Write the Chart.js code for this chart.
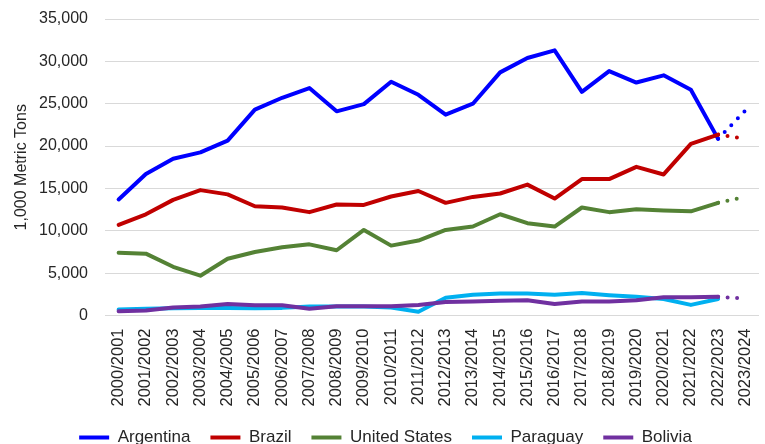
<!DOCTYPE html>
<html>
<head>
<meta charset="utf-8">
<script src="https://cdn.jsdelivr.net/npm/chart.js@4"></script>
<style>
  html, body { margin: 0; padding: 0; background: #fff; }
  #wrap { width: 765px; height: 444px; }
</style>
</head>
<body>
<div id="wrap"><canvas id="chart"></canvas></div>
<script>
// marketing years
const categories = [
  "2000/2001","2001/2002","2002/2003","2003/2004","2004/2005","2005/2006",
  "2006/2007","2007/2008","2008/2009","2009/2010","2010/2011","2011/2012",
  "2012/2013","2013/2014","2014/2015","2015/2016","2016/2017","2017/2018",
  "2018/2019","2019/2020","2020/2021","2021/2022","2022/2023","2023/2024"
];

// 1,000 metric tons (last year = projection, dotted)
const argentina    = [13700,16700,18500,19250,20650,24300,25700,26850,24100,24950,27600,26050,23700,25000,28700,30400,31300,26400,28850,27500,28350,26650,20850,24200];
const brazil       = [10700,11950,13650,14800,14300,12900,12750,12200,13100,13050,14050,14700,13300,14000,14400,15450,13800,16100,16100,17550,16650,20250,21350,20850];
const unitedStates = [7400,7300,5750,4700,6700,7500,8050,8400,7700,10100,8250,8850,10100,10500,11950,10900,10500,12750,12200,12550,12400,12300,13300,14000];
const paraguay     = [700,800,850,900,900,850,900,1050,1050,1050,950,450,2100,2450,2600,2600,2450,2650,2400,2200,1950,1250,1950,null];
const bolivia      = [500,600,950,1050,1350,1200,1200,800,1100,1100,1100,1250,1600,1650,1750,1800,1350,1650,1650,1800,2150,2150,2200,2000];

const yTicks = [0,5000,10000,15000,20000,25000,30000,35000];

const lastIdx = categories.length - 1;
const FONT = "'Liberation Sans', Arial, sans-serif";

function series(label, data, color){
  return {
    label,
    data,
    borderColor: color,
    backgroundColor: color,
    borderWidth: 4,
    borderCapStyle: "round",
    borderJoinStyle: "round",
    pointRadius: 0,
    pointHoverRadius: 0,
    tension: 0,
    segment: {
      borderDash: ctx => ctx.p1DataIndex === lastIdx ? [0, 9.5] : undefined
    }
  };
}

// Excel draws later series on top -> reverse the draw order, keep legend order
const datasets = [
  series("Argentina", argentina, "#0000FF"),
  series("Brazil", brazil, "#C00000"),
  series("United States", unitedStates, "#548235"),
  series("Paraguay", paraguay, "#00B0F0"),
  series("Bolivia", bolivia, "#7030A0")
];
datasets.forEach((d, i) => { d.order = datasets.length - i; });

new Chart(document.getElementById("chart"), {
  type: "line",
  data: { labels: categories, datasets },
  options: {
    responsive: true,
    maintainAspectRatio: false,
    animation: false,
    layout: { padding: { left: 12, right: 6, top: 19, bottom: -12 } },
    plugins: {
      tooltip: { enabled: false },
      legend: {
        position: "bottom",
        labels: {
          usePointStyle: true,
          pointStyle: "line",
          pointStyleWidth: 30,
          padding: 20,
          color: "#262626",
          font: { family: FONT, size: 17 },
          sort: (a, b) => a.datasetIndex - b.datasetIndex
        }
      }
    },
    scales: {
      x: {
        offset: true,
        grid: { display: false },
        border: { display: false },
        afterFit: axis => {
          axis.height = 93.5;
          axis.paddingLeft = 0;
          axis.paddingRight = 0;
        },
        ticks: {
          minRotation: 90,
          maxRotation: 90,
          autoSkip: false,
          padding: 5,
          color: "#262626",
          font: { family: FONT, size: 16.5 }
        }
      },
      y: {
        min: 0,
        max: 35000,
        afterBuildTicks: axis => { axis.ticks = yTicks.map(v => ({ value: v })); },
        afterFit: axis => {
          axis.width = 93;
          axis.paddingTop = 0;
          axis.paddingBottom = 0;
        },
        grid: { color: "#d9d9d9", lineWidth: 1, drawTicks: false },
        border: { display: false },
        ticks: {
          padding: 17,
          color: "#262626",
          font: { family: FONT, size: 16 },
          callback: v => v.toLocaleString("en-US")
        },
        title: {
          display: true,
          text: "1,000 Metric Tons",
          color: "#262626",
          font: { family: FONT, size: 16 },
          padding: { top: 0, bottom: 4 }
        }
      }
    }
  }
});
</script>
</body>
</html>
